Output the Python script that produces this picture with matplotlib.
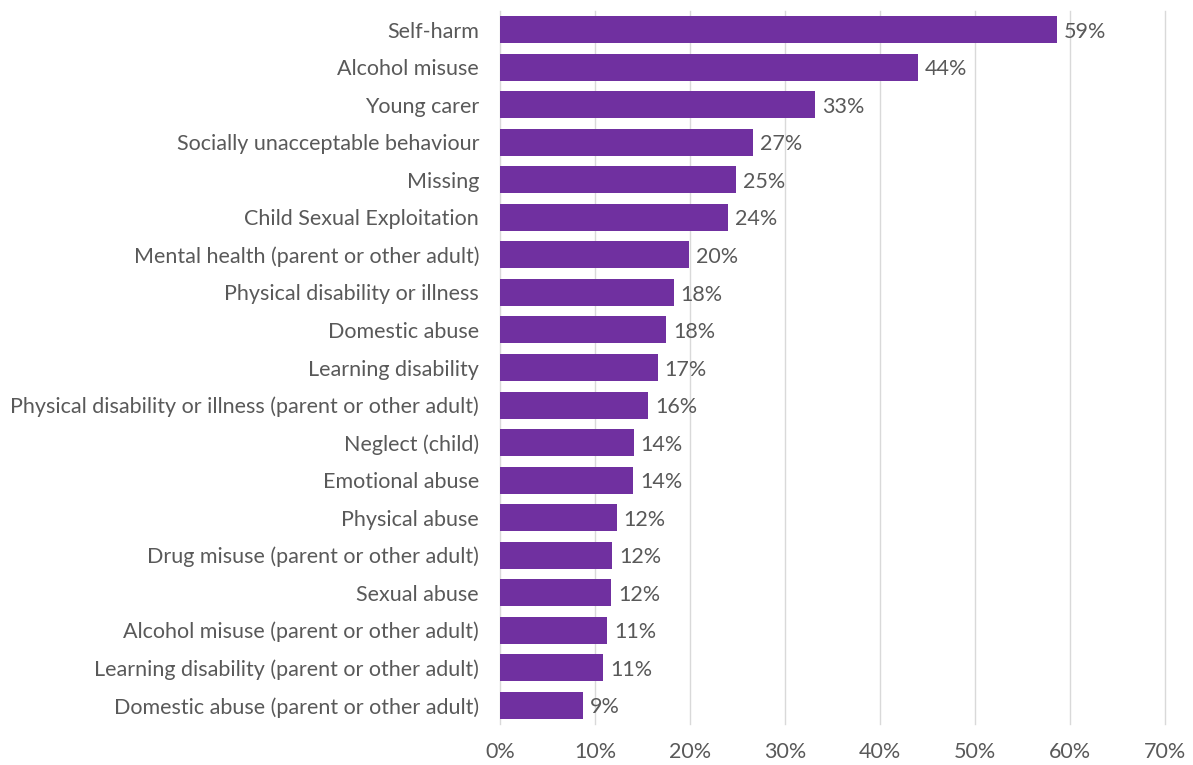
import matplotlib
matplotlib.use("Agg")
import matplotlib.pyplot as plt
from matplotlib.ticker import FuncFormatter

categories = [
    "Self-harm",
    "Alcohol misuse",
    "Young carer",
    "Socially unacceptable behaviour",
    "Missing",
    "Child Sexual Exploitation",
    "Mental health (parent or other adult)",
    "Physical disability or illness",
    "Domestic abuse",
    "Learning disability",
    "Physical disability or illness (parent or other adult)",
    "Neglect (child)",
    "Emotional abuse",
    "Physical abuse",
    "Drug misuse (parent or other adult)",
    "Sexual abuse",
    "Alcohol misuse (parent or other adult)",
    "Learning disability (parent or other adult)",
    "Domestic abuse (parent or other adult)",
]
values = [58.6, 44.0, 33.2, 26.6, 24.9, 24.0, 19.9, 18.3, 17.5, 16.6,
          15.6, 14.1, 14.0, 12.3, 11.8, 11.7, 11.3, 10.9, 8.7]
xticks = [0, 10, 20, 30, 40, 50, 60, 70]

BAR = "#7030A0"
TXT = "#595959"
GRID = "#D9D9D9"
FS = 15.5

plt.rcParams["font.family"] = ["Lato", "DejaVu Sans"]

fig = plt.figure(figsize=(11.93, 7.65), dpi=100)
ax = fig.add_axes([0.419, 0.0536, 0.9765 - 0.419, 0.9856 - 0.0536])

ypos = list(range(len(categories)))
bars = ax.barh(ypos, values, height=0.72, color=BAR, zorder=3)

for b, v in zip(bars, values):
    ax.annotate(f"{round(v):d}%", xy=(b.get_width(), b.get_y() + b.get_height() / 2),
                xytext=(5, -1.5), textcoords="offset points", va="center", ha="left",
                fontsize=FS, color=TXT)

ax.set_ylim(len(categories) - 0.5, -0.5)
ax.set_xlim(0, 70)
ax.set_yticks(ypos)
ax.set_yticklabels(categories)
ax.set_xticks(xticks)
ax.xaxis.set_major_formatter(FuncFormatter(lambda x, p: f"{x:.0f}%"))
ax.tick_params(axis="both", length=0, labelsize=FS, colors=TXT)
ax.tick_params(axis="y", pad=15)
ax.tick_params(axis="x", pad=13)
ax.grid(axis="x", color=GRID, linewidth=1, zorder=0)
for gl in ax.get_xgridlines():
    gl.set_clip_on(False)
for s in ax.spines.values():
    s.set_visible(False)

fig.savefig("out.png", dpi=100)
